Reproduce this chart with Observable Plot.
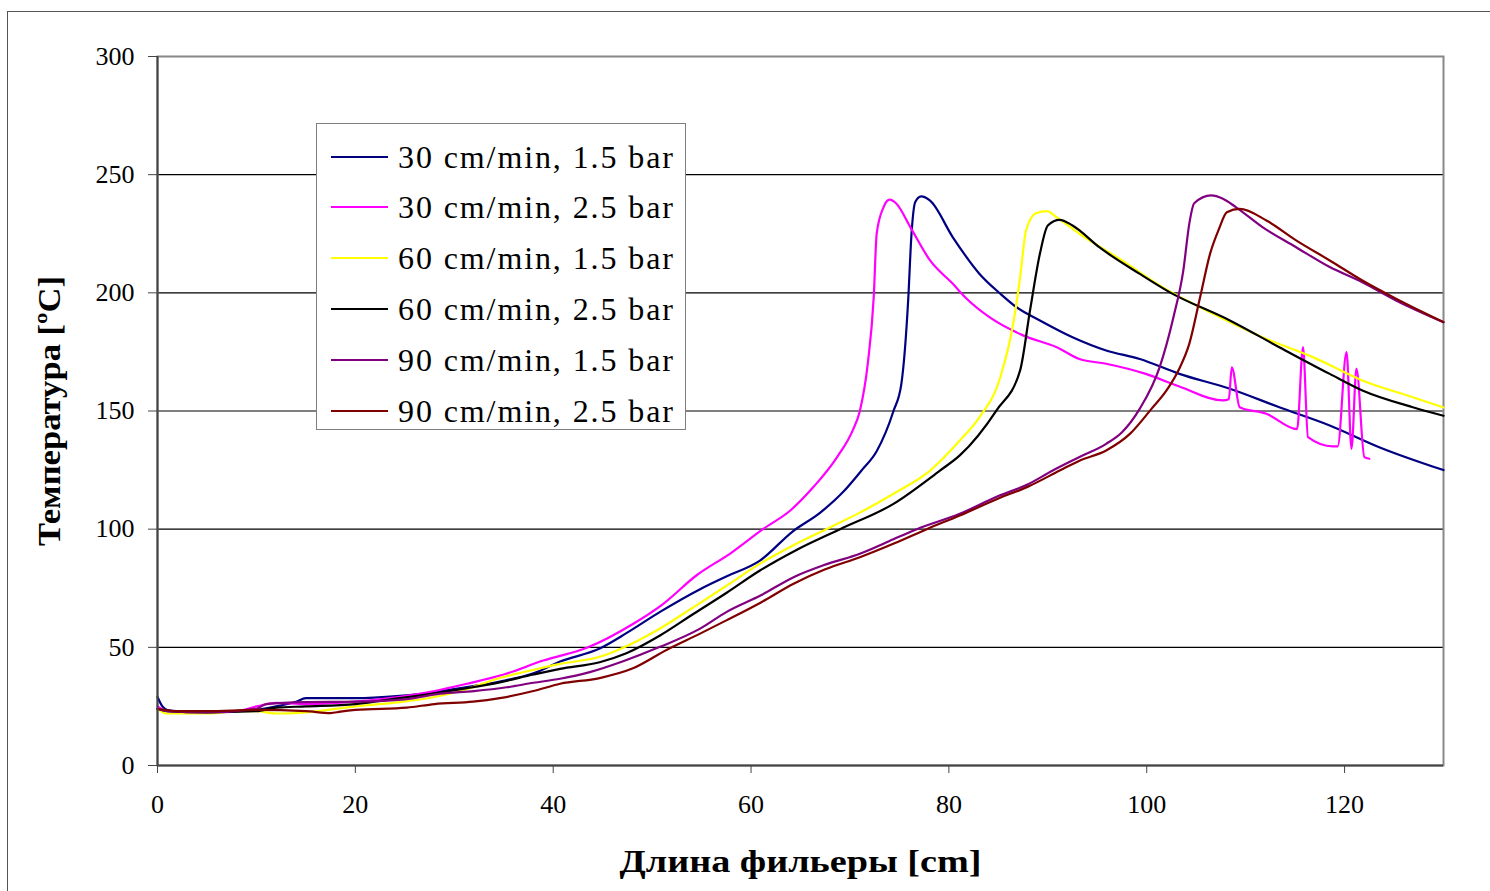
<!DOCTYPE html>
<html><head><meta charset="utf-8">
<script src="https://cdn.jsdelivr.net/npm/d3@7"></script>
<script src="https://cdn.jsdelivr.net/npm/@observablehq/plot@0.6"></script>
<style>
html,body{margin:0;padding:0;background:#fff;overflow:hidden;}
#wrap{position:relative;width:1490px;height:891px;}
#border{position:absolute;left:7px;top:11px;width:1520px;height:920px;border:1.5px solid #555;box-sizing:border-box;}
#chart{position:absolute;left:0;top:0;}
#legend{position:absolute;left:316px;top:123px;width:370px;height:307px;border:1px solid #7f7f7f;background:#fff;box-sizing:border-box;font-family:"Liberation Serif",serif;font-size:32px;color:#000;}
.item{position:absolute;left:14px;height:40px;display:flex;align-items:center;white-space:nowrap;letter-spacing:1.9px;}
.swatch{width:57px;height:0;border-top:2px solid;margin-right:10px;}
g[aria-label="x-axis label"] text, g[aria-label="y-axis label"] text{font-weight:bold;font-size:32px;}
</style>
</head><body>
<div id="wrap"><div id="border"></div><div id="chart"></div><div id="legend"></div></div>
<script>
const seriesNames = ["30 cm/min, 1.5 bar","30 cm/min, 2.5 bar","60 cm/min, 1.5 bar","60 cm/min, 2.5 bar","90 cm/min, 1.5 bar","90 cm/min, 2.5 bar"];
const seriesColors = ["#000080","#ff00ff","#ffff00","#000000","#800080","#800000"];
const xTicks = [0,20,40,60,80,100,120];
const yTicks = [0,50,100,150,200,250,300];
const gridLines = [50,100,150,200,250];
const xLabel = "Длина фильеры [cm]";
const yLabel = "Температура [ºC]";

const s30_15 = [[0,29],[0.5,25],[1,23.5],[2,23],[5,23],[8,23],[10,23.5],[12,25],[14,27],[15,28.5],[20,28.5],[24.5,29.5],[28,31],[31,33],[34.6,35.5],[38,39],[40.7,44],[44.7,49.5],[47.4,56],[50.8,65],[54.8,74.5],[57.5,80],[60.9,86.7],[64.2,99],[67,107],[69.3,115.7],[71.2,125],[72.7,133],[74.4,150],[75.2,161.6],[75.9,198],[76.2,223.5],[76.6,238.4],[77.2,240.8],[78.1,239],[80.4,223.5],[83.1,208],[85.2,199.6],[86.8,194],[89.2,188.3],[92.5,181.2],[95.9,175.6],[99.3,172],[103.3,165.7],[108.4,159.4],[113.4,151.6],[118.5,143.9],[123.5,134.7],[130,125]];
const s30_25 = [[0,25],[1,23],[3,22.5],[8,23],[10,25],[12,26.5],[15,26],[20,27],[24.5,29],[28,31.5],[31.3,34.6],[35,38.5],[39,44.4],[43.4,49.8],[48.1,60],[51,68],[54.5,80.5],[58,90],[61.2,100],[64,108],[66.3,117.8],[68.7,130.5],[70.3,142],[71,150],[71.8,170],[72.4,198],[72.7,225],[73.4,236.3],[74,239.4],[74.7,237.7],[76.1,227.8],[78.1,213.7],[80.4,203.8],[81.8,197.5],[84.1,189.7],[87.5,182],[90.9,177],[93.2,172],[95.9,170],[99.9,165.7],[103.3,160.4],[107.7,154.5],[108.3,155],[108.6,168.5],[109.4,151.6],[112.1,148.8],[115.2,142.3],[115.8,177],[116.3,138.9],[118.8,135],[119.3,135],[120.2,174.9],[120.7,134],[121.2,167.9],[122,130.5],[122.5,129.8]];
const s60_15 = [[0,24],[1,22],[5,22],[8,23],[10,23],[12,22],[15,22.5],[20,25],[24.5,26.8],[28,29],[31,32],[34.6,37],[37.5,40],[40.7,43],[44.7,46],[47.4,50.5],[50.8,58],[54.2,67],[57.5,76],[60.9,85.4],[64.2,93],[67.6,100],[71,107],[74.4,115],[78.1,124.8],[81.1,137.5],[83.1,147.4],[85.2,164.3],[86.5,186.9],[87.2,206.6],[87.8,226.4],[88.8,233.7],[89.9,234.6],[90.9,232],[93.2,225],[97.5,213.7],[101.6,202.4],[106.7,191.1],[111.7,181.2],[116.8,172.8],[121.8,162.9],[126.9,155.8],[130,151.5]];
const s60_25 = [[0,24],[1,23],[5,22.5],[10,23],[12,24.5],[15,25],[20,26],[24.5,28.5],[28,30.5],[31,32.5],[34.6,35.2],[38,38.5],[40.7,40.9],[44.7,43.7],[47.4,47.5],[50.8,55],[54.2,64.2],[57.5,73],[60.9,82.5],[64.5,91],[69,100],[74.4,110.7],[79.1,124.8],[81.1,131.2],[84.8,150.2],[87.2,167.2],[88.2,192.5],[89.2,216.5],[90,228.5],[91.2,230.9],[92.5,228.5],[95.2,219.3],[99.3,208],[102.3,200.3],[108.4,188.3],[113.4,177],[118.5,165.7],[121.8,158.7],[126.9,151.6],[130,148]];
const s90_15 = [[0,24],[1,23],[5,22.5],[10,24],[11,26],[15,26.8],[20,27],[25,28],[28.6,30.4],[32,31.5],[35.3,33.1],[38,35],[40.7,36.7],[43.7,39.5],[47,44],[50.8,50.2],[54.8,57.8],[57.5,64.9],[61,72],[64.3,79.7],[67.5,85],[71,89.6],[74,95],[76.7,99.9],[81.1,106.5],[85,114],[88,119],[90.5,124.8],[93.2,130.5],[95.9,136.1],[97.5,141],[99.3,151],[101.3,168.5],[102.7,189.7],[103.7,209.5],[104.3,229.2],[104.8,237.9],[106.5,241.2],[107.7,239.8],[109,236.3],[111.7,227.8],[115.1,219.3],[118.5,210.9],[121.8,204.5],[125.2,196.8],[130,187.6]];
const s90_25 = [[0,24],[2,23],[5,23],[10,23.5],[15,23],[17.5,22.2],[18.5,22.8],[20,23.5],[25.2,24.5],[28,26],[31.9,27],[34.6,28.5],[38,31.5],[40.7,34.6],[44.7,37],[48,41],[51.5,49],[54.8,55.7],[57.5,61.4],[61,69],[64.3,76.9],[67.5,83],[71,88.1],[74.5,94],[77.7,99.9],[81.1,105.8],[85,113],[88,118],[91.2,124.8],[93.2,129],[95.9,133.3],[98.3,140.3],[100.5,151],[102,158.7],[103.3,168],[104.3,178.4],[105.4,198.2],[106.4,216.5],[107.3,227],[108.1,234.1],[109.4,235.5],[112.1,230.6],[115.1,222.2],[118.5,213.7],[121.8,205.2],[125.2,197.5],[130,187.6]];

const allSeries = [s30_15, s30_25, s60_15, s60_25, s90_15, s90_25];
const data = allSeries.flatMap((s, i) => s.map(([x, y]) => ({x, y, name: seriesNames[i]})));

const chart = Plot.plot({
  width: 1490, height: 891,
  marginLeft: 157, marginRight: 47, marginTop: 56, marginBottom: 126,
  style: {fontFamily: "'Liberation Serif', serif", fontSize: "26px", color: "#000", background: "transparent"},
  x: {domain: [0, 130]},
  y: {domain: [0, 300]},
  color: {domain: seriesNames, range: seriesColors},
  marks: [
    Plot.ruleY(gridLines, {stroke: "#000", strokeWidth: 1.2}),
    Plot.frame({stroke: "#888", strokeWidth: 2}),
    Plot.line(data, {x: "x", y: "y", z: "name", stroke: "name", strokeWidth: 2.2, curve: "monotone-x"}),
    Plot.ruleX([0], {stroke: "#444", strokeWidth: 2}),
    Plot.ruleY([0], {stroke: "#444", strokeWidth: 2}),
    Plot.axisY(yTicks, {tickSize: 9, tickPadding: 14, stroke: "#444", label: yLabel, labelAnchor: "center", labelArrow: "none", labelOffset: 120}),
    Plot.axisX(xTicks, {tickSize: 8, tickPadding: 21, stroke: "#444", label: xLabel, labelAnchor: "center", labelArrow: "none", labelOffset: 106})
  ]
});
document.getElementById("chart").appendChild(chart);

d3.select(chart).selectAll('g[aria-label="x-axis label"] text')
  .attr("textLength", 362).attr("lengthAdjust", "spacingAndGlyphs");
d3.select(chart).selectAll('g[aria-label="y-axis label"] text')
  .attr("textLength", 270).attr("lengthAdjust", "spacingAndGlyphs");

const legend = document.getElementById("legend");
const legendTops = [13, 63, 114, 165, 216, 267];
seriesNames.forEach((n, i) => {
  const it = document.createElement("div");
  it.className = "item";
  it.style.top = legendTops[i] + "px";
  const sw = document.createElement("span");
  sw.className = "swatch";
  sw.style.borderColor = seriesColors[i];
  const t = document.createElement("span");
  t.textContent = n;
  it.appendChild(sw); it.appendChild(t);
  legend.appendChild(it);
});
</script>
</body></html>
